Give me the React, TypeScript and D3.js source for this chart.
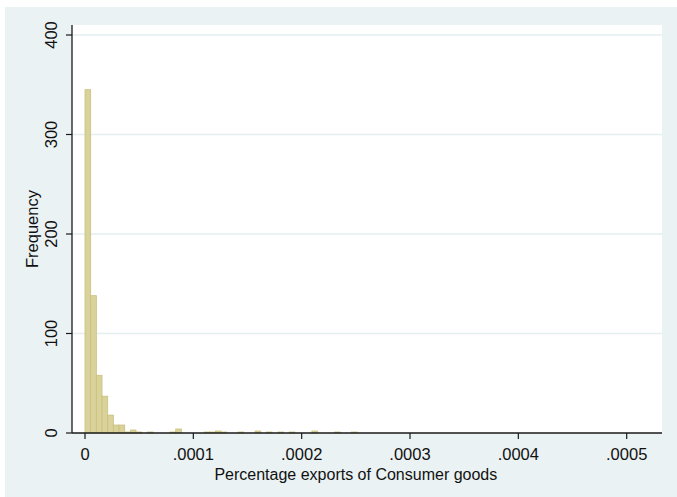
import React from "react";
import * as d3 from "d3";

// histogram of percentage exports (consumer goods), counts per bin starting at 0
const binWidth = 0.000005234;
const binCounts = [
  345, 138, 58, 37, 18, 8, 8, 1, 3, 1, 0, 1, 0, 0, 0, 1, 4, 0, 0, 0, 0, 1, 1, 2,
  1, 0, 0, 1, 0, 0, 2, 0, 1, 0, 1, 0, 1, 0, 0, 0, 2, 0, 0, 0, 1, 0, 0, 1,
];
const xTicks = [0, 0.0001, 0.0002, 0.0003, 0.0004, 0.0005];
const xTickLabels = ["0", ".0001", ".0002", ".0003", ".0004", ".0005"];
const yTicks = [0, 100, 200, 300, 400];

const W = 677;
const H = 497;
const plot = { left: 72, right: 662, top: 25, bottom: 433 };
const font = "'Liberation Sans', Arial, Helvetica, sans-serif";

export default function App() {
  const x = d3
    .scaleLinear()
    .domain([-0.000012, 0.0005326])
    .range([plot.left, plot.right]);
  const y = d3.scaleLinear().domain([0, 400]).range([plot.bottom, 35]);

  return (
    <svg
      width={W}
      height={H}
      style={{ position: "absolute", left: 0, top: 0 }}
      fontFamily={font}
    >
      <rect x={0} y={0} width={W} height={H} fill="#ffffff" />
      <rect x={5} y={7} width={W - 5} height={H - 7} fill="#eaf2f3" />
      <rect
        x={plot.left}
        y={plot.top}
        width={plot.right - plot.left}
        height={plot.bottom - plot.top}
        fill="#ffffff"
      />

      {yTicks.slice(1).map((t) => (
        <line
          key={"g" + t}
          x1={plot.left}
          x2={plot.right}
          y1={y(t)}
          y2={y(t)}
          stroke="#e5eef0"
          strokeWidth={1.5}
        />
      ))}

      {binCounts.map((c, i) =>
        c > 0 ? (
          <rect
            key={"b" + i}
            x={x(i * binWidth)}
            y={y(c)}
            width={x((i + 1) * binWidth) - x(i * binWidth)}
            height={y(0) - y(c)}
            fill="#d9d29b"
            stroke="#c9c07c"
            strokeWidth={0.8}
          />
        ) : null
      )}

      {/* axes */}
      <line
        x1={plot.left}
        x2={plot.left}
        y1={plot.top}
        y2={plot.bottom}
        stroke="#1a1a1a"
        strokeWidth={1.3}
      />
      <line
        x1={plot.left}
        x2={plot.right}
        y1={plot.bottom}
        y2={plot.bottom}
        stroke="#1a1a1a"
        strokeWidth={1.3}
      />

      {yTicks.map((t) => (
        <g key={"y" + t}>
          <line
            x1={plot.left - 6}
            x2={plot.left}
            y1={y(t)}
            y2={y(t)}
            stroke="#1a1a1a"
            strokeWidth={1.2}
          />
          <text
            transform={`translate(57,${y(t)}) rotate(-90)`}
            textAnchor="middle"
            fontSize={16.5}
            fill="#111"
          >
            {t}
          </text>
        </g>
      ))}

      {xTicks.map((t, i) => (
        <g key={"x" + t}>
          <line
            x1={x(t)}
            x2={x(t)}
            y1={plot.bottom}
            y2={plot.bottom + 6}
            stroke="#1a1a1a"
            strokeWidth={1.2}
          />
          <text
            x={x(t)}
            y={460}
            textAnchor="middle"
            fontSize={16.5}
            fill="#111"
          >
            {xTickLabels[i]}
          </text>
        </g>
      ))}

      <text
        x={(x(0) + x(0.0005)) / 2}
        y={480}
        textAnchor="middle"
        fontSize={16}
        fill="#111"
      >
        Percentage exports of Consumer goods
      </text>
      <text
        transform={`translate(38,${(plot.top + plot.bottom) / 2}) rotate(-90)`}
        textAnchor="middle"
        fontSize={16.5}
        fill="#111"
      >
        Frequency
      </text>
    </svg>
  );
}
